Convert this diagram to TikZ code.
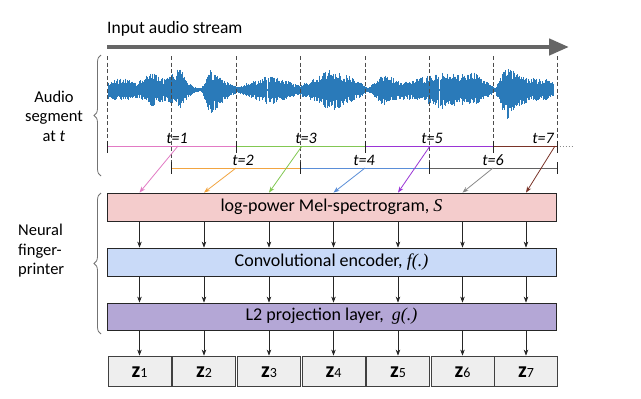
\documentclass[tikz,border=0pt]{standalone}
\usepackage{fontspec}
\setmainfont{Carlito}
\newfontfamily\serifit{Liberation Serif}
\usetikzlibrary{arrows.meta,decorations.pathreplacing,calc}
\definecolor{wave}{HTML}{2A7AB9}
\definecolor{melfill}{HTML}{F4CCCC}
\definecolor{encfill}{HTML}{C9DAF8}
\definecolor{projfill}{HTML}{B4A7D6}
\definecolor{zfill}{HTML}{EEEEEE}
\definecolor{cpink}{HTML}{E27AC4}
\definecolor{cgreen}{HTML}{82C852}
\definecolor{cpurple}{HTML}{9A35D6}
\definecolor{cbrown}{HTML}{7A3328}
\definecolor{corange}{HTML}{F2A541}
\definecolor{cblue}{HTML}{5A8ED8}
\definecolor{cgray}{HTML}{8A8A8A}
\definecolor{streamgray}{HTML}{666666}
\tikzset{
  boxstyle/.style={draw=black!85, line width=0.8pt, minimum width=449pt, minimum height=28pt, inner sep=0pt, font=\fontsize{18}{20}\selectfont},
  zbox/.style={draw=black!75, fill=zfill, line width=0.8pt, minimum width=63pt, minimum height=30pt, inner sep=0pt},
  darr/.style={-{Stealth[length=6pt,width=4.5pt]}, line width=0.6pt, black!85},
  segarr/.style={-{Stealth[length=6pt,width=4.5pt]}, line width=0.8pt},
  seg/.style={line width=0.9pt},
  tick/.style={line width=0.7pt, black!85},
  vdash/.style={black!70, line width=0.5pt, dash pattern=on 4pt off 2.5pt},
  tlab/.style={font=\itshape\fontsize{16}{16}\selectfont, inner sep=0pt},
  sidelab/.style={font=\fontsize{16.5}{19.5}\selectfont, inner sep=0pt},
  brace/.style={decorate, decoration={brace, amplitude=7pt}, black!55, line width=0.8pt},
}
\newcommand{\zsub}[1]{{\bfseries z}{\fontsize{14}{14}\selectfont\mdseries #1}}
\begin{document}
\begin{tikzpicture}[x=1pt,y=-1pt]
\useasboundingbox (0,0) rectangle (641,399);
\fill[white] (0,0) rectangle (641,399);

% stream arrow
\node[anchor=west, font=\fontsize{17.5}{17.5}\selectfont, inner sep=0pt] (stream) at (107,29) {Input audio stream};
\coordinate (sa) at (107,47);
\coordinate (sb) at (569,47);
\draw[streamgray, line width=4.5pt, -{Triangle[length=20pt,width=16pt]}] (sa) -- (sb);

% waveform
\pgfmathsetseed{11}
\draw[wave, line width=2pt] (110,90) -- (554,90);
\foreach \xa/\ta/\ba/\xb/\tb/\bb in {
108/9/9/123/13/13, 123/13/13/137/8/8, 137/8/8/151/18/17, 151/18/17/164/12/12,
164/12/12/180/22/18, 180/22/18/188/8/8, 188/8/8/196/2/2, 196/2/2/202/2/2,
202/2/2/210/20/25, 210/20/25/221/12/15, 221/12/15/233/5/5, 233/5/5/238/3/3,
238/3/3/249/8/8, 249/8/8/270/15/15, 270/15/15/286/10/10, 286/10/10/298/5/6,
298/5/6/315/12/12, 315/12/12/331/22/22, 331/22/22/347/15/15, 347/15/15/360/8/8,
360/8/8/368/2/2, 368/2/2/384/18/17, 384/18/17/397/10/10, 397/10/10/409/8/10,
409/8/10/421/13/12, 421/13/12/442/18/20, 442/18/20/458/16/16, 458/16/16/474/18/15,
474/18/15/487/8/8, 487/8/8/495/2/2, 495/2/2/507/25/30, 507/25/30/519/15/18,
519/15/18/531/12/10, 531/12/10/544/12/12, 544/12/12/554/7/6}{
  \foreach \t in {0,0.05,...,1}{
    \pgfmathsetmacro\xx{\xa+(\xb-\xa)*\t}
    \pgfmathsetmacro\up{(\ta+(\tb-\ta)*\t)*(0.5+0.5*rnd)}
    \pgfmathsetmacro\dn{(\ba+(\bb-\ba)*\t)*(0.5+0.5*rnd)}
    \draw[wave, line width=0.8pt] ({\xx},{90-\up}) -- ({\xx},{90+\dn});
  }
}

% dashed verticals
\foreach \x/\yb in {107/141, 171.5/162, 236/141, 300.5/162, 365/141, 429/162, 493/141, 557/141}{
  \draw[vdash] (\x,56) -- (\x,\yb);
}

% braces and side labels
\coordinate (b1a) at (101,176);
\coordinate (b1b) at (101,55);
\draw[brace] (b1a) -- (b1b);
\node[sidelab, align=center] (audiolab) at (54,116) {Audio\\segment\\at \textit{t}};
\coordinate (b2a) at (101,334);
\coordinate (b2b) at (101,193);
\draw[brace] (b2a) -- (b2b);
\node[sidelab, align=left, anchor=west] (nflab) at (18,251) {Neural\\finger-\\printer};

% time segments
\coordinate (r1a) at (107,146); \coordinate (r1b) at (236,146);
\coordinate (r3b) at (365,146); \coordinate (r5b) at (493,146); \coordinate (r7b) at (557,146);
\coordinate (rend) at (572,146);
\draw[seg, cpink] (r1a) -- (r1b);
\draw[seg, cgreen] (r1b) -- (r3b);
\draw[seg, cpurple] (r3b) -- (r5b);
\draw[seg, cbrown] (r5b) -- (r7b);
\draw[cgray, line width=0.9pt, dotted] (r7b) -- (rend);
\coordinate (q2a) at (171.5,168); \coordinate (q2b) at (300.5,168);
\coordinate (q4b) at (429,168); \coordinate (q6b) at (557,168);
\draw[seg, corange] (q2a) -- (q2b);
\draw[seg, cblue] (q2b) -- (q4b);
\draw[seg, cgray!70!black] (q4b) -- (q6b);
\foreach \x in {107,236,365,493,557}{ \draw[tick] (\x,141) -- (\x,153); }
\foreach \x in {171.5,300.5,429,557}{ \draw[tick] (\x,162) -- (\x,174); }

\node[tlab] (t1) at (177,138) {t=1};
\node[tlab] (t3) at (306,138) {t=3};
\node[tlab] (t5) at (432,138) {t=5};
\node[tlab] (t7) at (543,138) {t=7};
\node[tlab] (t2) at (243,160) {t=2};
\node[tlab] (t4) at (364,160) {t=4};
\node[tlab] (t6) at (493,160) {t=6};

% boxes
\node[boxstyle, fill=melfill] (mel) at (331.5,207) {log-power Mel-spectrogram, {\serifit\itshape S}};
\node[boxstyle, fill=encfill] (enc) at (331.5,262) {Convolutional encoder, {\serifit\itshape f(.)}};
\node[boxstyle, fill=projfill, minimum height=27pt] (proj) at (331.5,316.5) {L2 projection layer, \ {\serifit\itshape g(.)}};

% z boxes
\foreach \i/\x in {1/139.5, 2/204, 3/269, 4/333.5, 5/398, 6/462.5, 7/526}{
  \coordinate (c\i) at (\x,0);
  \node[zbox] (z\i) at (\x,371) {};
  \node[font=\fontsize{22}{22}\selectfont, inner sep=0pt] (zl\i) at (\x,372) {\zsub{\i}};
}

% segment arrows
\coordinate (p1) at (178,146); \coordinate (p3) at (302,146);
\coordinate (p5) at (430,146); \coordinate (p7) at (555,146);
\coordinate (p2) at (236,168); \coordinate (p4) at (365,168); \coordinate (p6) at (493,168);
\draw[segarr, cpink] (p1) -- (c1 |- mel.north);
\draw[segarr, corange] (p2) -- (c2 |- mel.north);
\draw[segarr, cgreen] (p3) -- (c3 |- mel.north);
\draw[segarr, cblue] (p4) -- (c4 |- mel.north);
\draw[segarr, cpurple] (p5) -- (c5 |- mel.north);
\draw[segarr, cgray] (p6) -- (c6 |- mel.north);
\draw[segarr, cbrown] (p7) -- (c7 |- mel.north);

% vertical arrows
\foreach \i in {1,...,7}{
  \draw[darr] (c\i |- mel.south) -- (c\i |- enc.north);
  \draw[darr] (c\i |- enc.south) -- (c\i |- proj.north);
  \draw[darr] (c\i |- proj.south) -- (z\i.north);
}
\end{tikzpicture}
\end{document}
